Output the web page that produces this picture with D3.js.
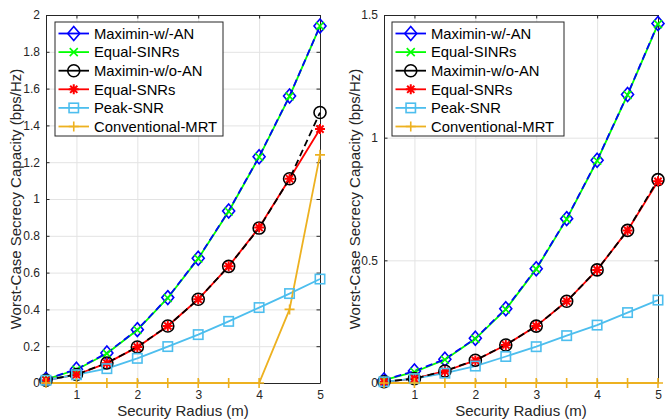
<!DOCTYPE html>
<html>
<head>
<meta charset="utf-8">
<script src="https://cdn.jsdelivr.net/npm/d3@7"></script>
<style>
  html, body { margin: 0; padding: 0; background: #fff; }
  svg { display: block; font-family: "Liberation Sans", Arial, sans-serif; }
</style>
</head>
<body>
<svg id="chart" width="665" height="420"></svg>
<script>
// ---------------- DATA ----------------
const radius = [0.5, 1, 1.5, 2, 2.5, 3, 3.5, 4, 4.5, 5];
const seriesNames = ["Maximin-w/-AN", "Equal-SINRs", "Maximin-w/o-AN", "Equal-SNRs", "Peak-SNR", "Conventional-MRT"];

// Left panel
const leftMaximinAN   = [0.02, 0.075, 0.163, 0.29, 0.464, 0.678, 0.935, 1.23, 1.56, 1.94];
const leftEqualSINRs  = [0.02, 0.072, 0.16, 0.288, 0.462, 0.676, 0.932, 1.228, 1.558, 1.94];
const leftMaximinNoAN = [0.015, 0.046, 0.109, 0.196, 0.31, 0.455, 0.634, 0.842, 1.11, 1.47];
const leftEqualSNRs   = [0.015, 0.045, 0.108, 0.195, 0.31, 0.455, 0.634, 0.845, 1.11, 1.38];
const leftPeakSNR     = [0.015, 0.045, 0.078, 0.134, 0.198, 0.263, 0.335, 0.41, 0.486, 0.565];
const leftMRT         = [0, 0, 0, 0, 0, 0, 0, 0, 0.40, 1.24];
const leftYTicks = [0, 0.2, 0.4, 0.6, 0.8, 1, 1.2, 1.4, 1.6, 1.8, 2];

// Right panel
const rightMaximinAN   = [0.012, 0.049, 0.097, 0.182, 0.303, 0.466, 0.67, 0.908, 1.176, 1.465];
const rightEqualSINRs  = [0.012, 0.045, 0.095, 0.18, 0.3, 0.464, 0.668, 0.906, 1.174, 1.463];
const rightMaximinNoAN = [0.005, 0.018, 0.049, 0.093, 0.155, 0.232, 0.333, 0.461, 0.622, 0.829];
const rightEqualSNRs   = [0.005, 0.018, 0.048, 0.092, 0.155, 0.232, 0.333, 0.461, 0.622, 0.822];
const rightPeakSNR     = [0.005, 0.018, 0.04, 0.069, 0.108, 0.148, 0.193, 0.236, 0.287, 0.338];
const rightMRT         = [0, 0, 0, 0, 0, 0, 0, 0, 0, 0];
const rightYTicks = [0, 0.5, 1, 1.5];

const xTicks = [1, 2, 3, 4, 5];
const xLabel = "Security Radius (m)";
const yLabel = "Worst-Case Secrecy Capacity (bps/Hz)";

// ---------------- STYLE ----------------
const styles = [
  { color: "#0000ff", dash: "7,4", marker: "diamond" },
  { color: "#00ff00", dash: null,  marker: "x" },
  { color: "#000000", dash: "7,4", marker: "circle" },
  { color: "#ff0000", dash: null,  marker: "asterisk" },
  { color: "#4dbeee", dash: null,  marker: "square" },
  { color: "#edb120", dash: null,  marker: "plus" }
];
const lineOrder = [1, 3, 4, 5, 0, 2];   // solid under, dashed on top
const axisColor = "#262626";
const gridColor = "#e3e3e3";

const svg = d3.select("#chart");

function drawMarker(g, type, color, x, y) {
  const m = g.append("g").attr("transform", `translate(${x},${y})`)
    .attr("fill", "none").attr("stroke", color).attr("stroke-width", 1.6);
  if (type === "diamond") {
    m.append("path").attr("d", "M0,-7L6,0L0,7L-6,0Z");
  } else if (type === "x") {
    m.append("path").attr("d", "M-4,-4L4,4M-4,4L4,-4");
  } else if (type === "circle") {
    m.append("circle").attr("r", 6);
  } else if (type === "asterisk") {
    m.append("path").attr("d", "M-5,0L5,0M0,-5L0,5M-3.6,-3.6L3.6,3.6M-3.6,3.6L3.6,-3.6").attr("stroke-width", 2);
  } else if (type === "square") {
    m.append("rect").attr("x", -4.7).attr("y", -4.7).attr("width", 9.4).attr("height", 9.4);
  } else if (type === "plus") {
    m.append("path").attr("d", "M-5,0L5,0M0,-5L0,5");
  }
}

function panel(opt) {
  const x = d3.scaleLinear().domain([0.5, 5]).range([opt.x0, opt.x1]);
  const y = d3.scaleLinear().domain([0, opt.yMax]).range([opt.y1, opt.y0]);
  const g = svg.append("g");
  const w = opt.x1 - opt.x0, h = opt.y1 - opt.y0;

  // grid
  const gx = g.append("g").attr("transform", `translate(0,${opt.y1})`)
    .call(d3.axisBottom(x).tickValues(xTicks).tickSize(-h).tickFormat(""));
  const gy = g.append("g").attr("transform", `translate(${opt.x0},0)`)
    .call(d3.axisLeft(y).tickValues(opt.yTicks).tickSize(-w).tickFormat(""));
  [gx, gy].forEach(a => {
    a.select(".domain").remove();
    a.selectAll("line").attr("stroke", gridColor).attr("stroke-width", 1);
  });

  // axes (inward ticks)
  const ax = g.append("g").attr("transform", `translate(0,${opt.y1})`)
    .call(d3.axisBottom(x).tickValues(xTicks).tickSizeInner(-3.5).tickSizeOuter(0).tickPadding(7).tickFormat(d3.format("d")));
  const axTop = g.append("g").attr("transform", `translate(0,${opt.y0})`)
    .call(d3.axisTop(x).tickValues(xTicks).tickSizeInner(-3.5).tickSizeOuter(0).tickFormat(""));
  const ay = g.append("g").attr("transform", `translate(${opt.x0},0)`)
    .call(d3.axisLeft(y).tickValues(opt.yTicks).tickSizeInner(-3.5).tickSizeOuter(0).tickPadding(6).tickFormat(d => String(+d.toFixed(1))));
  const ayR = g.append("g").attr("transform", `translate(${opt.x1},0)`)
    .call(d3.axisRight(y).tickValues(opt.yTicks).tickSizeInner(-3.5).tickSizeOuter(0).tickFormat(""));
  [ax, axTop, ay, ayR].forEach(a => {
    a.select(".domain").attr("stroke", axisColor).attr("stroke-width", 1);
    a.selectAll("line").attr("stroke", axisColor);
    a.selectAll("text").attr("fill", axisColor).attr("font-size", 12)
      .attr("font-family", "'Liberation Sans', Arial, sans-serif");
  });

  // axis labels
  g.append("text").attr("x", (opt.x0 + opt.x1) / 2).attr("y", 416)
    .attr("text-anchor", "middle").attr("font-size", 15).attr("fill", axisColor).text(xLabel);
  g.append("text").attr("transform", `translate(${opt.yLabelX},${(opt.y0 + opt.y1) / 2}) rotate(-90)`)
    .attr("text-anchor", "middle").attr("font-size", 15).attr("fill", axisColor).text(yLabel);

  // lines
  const line = d3.line().x((d, i) => x(radius[i])).y(d => y(d));
  lineOrder.forEach(k => {
    const s = styles[k];
    g.append("path").datum(opt.data[k]).attr("d", line)
      .attr("fill", "none").attr("stroke", s.color).attr("stroke-width", 1.8)
      .attr("stroke-dasharray", s.dash);
  });
  // markers
  opt.data.forEach((vals, k) => {
    const s = styles[k];
    vals.forEach((v, i) => drawMarker(g, s.marker, s.color, x(radius[i]), y(v)));
  });

  // legend
  const lg = g.append("g");
  lg.append("rect").attr("x", opt.lx0).attr("y", 22).attr("width", opt.lw).attr("height", 114)
    .attr("fill", "#fff").attr("stroke", axisColor).attr("stroke-width", 1);
  seriesNames.forEach((name, k) => {
    const s = styles[k];
    const cy = 33.5 + k * 18.6;
    const l0 = opt.lx0 + 3.5, l1 = opt.lx0 + 34;
    lg.append("line").attr("x1", l0).attr("x2", l1).attr("y1", cy).attr("y2", cy)
      .attr("stroke", s.color).attr("stroke-width", 1.8);
    drawMarker(lg, s.marker, s.color, (l0 + l1) / 2, cy);
    lg.append("text").attr("x", opt.lx0 + 39).attr("y", cy + 5.3)
      .attr("font-size", 14.8).attr("fill", "#000").text(name);
  });
}

panel({
  x0: 46, x1: 320, y0: 15, y1: 383, yMax: 2, yTicks: leftYTicks, yLabelX: 21,
  lx0: 55, lw: 168,
  data: [leftMaximinAN, leftEqualSINRs, leftMaximinNoAN, leftEqualSNRs, leftPeakSNR, leftMRT]
});
panel({
  x0: 384, x1: 658, y0: 15, y1: 383, yMax: 1.5, yTicks: rightYTicks, yLabelX: 360,
  lx0: 392, lw: 172,
  data: [rightMaximinAN, rightEqualSINRs, rightMaximinNoAN, rightEqualSNRs, rightPeakSNR, rightMRT]
});
</script>
</body>
</html>
